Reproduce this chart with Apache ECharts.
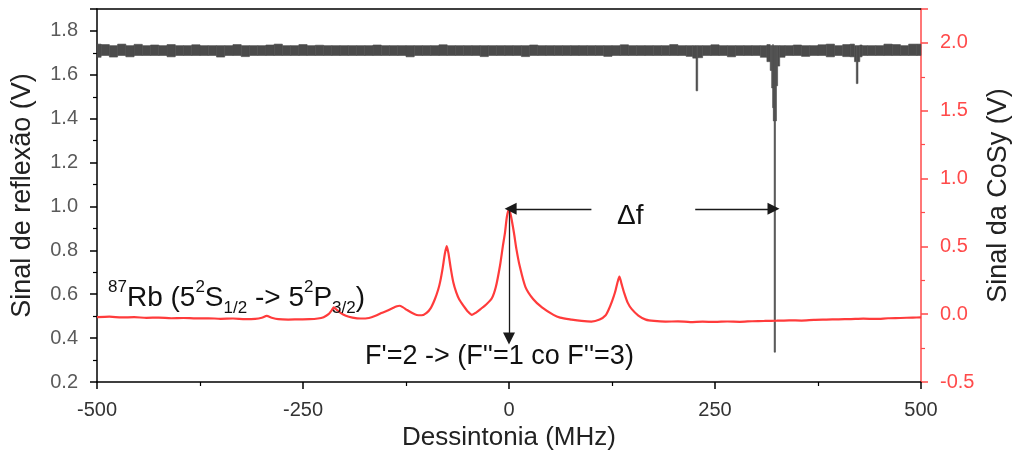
<!DOCTYPE html>
<html>
<head>
<meta charset="utf-8">
<script src="https://cdn.jsdelivr.net/npm/echarts/dist/echarts.min.js"></script>
<style>
  html, body { margin: 0; padding: 0; background: #fff; overflow: hidden; }
  #chart { width: 1013px; height: 453px; }
</style>
</head>
<body>
<div id="chart"></div>
<script>
// Detuning axis ticks (MHz)
const detuningTicks = [-500, -250, 0, 250, 500];

// CoSy (saturated absorption) signal, right axis (V)
const cosyFreq = [
  -500, -485, -470, -455, -440, -425, -410, -395, -380, -365, -350, -335, -320, -308,
  -300, -294, -288, -280, -268, -255, -242, -232, -225, -219, -215, -212.5, -209, -204,
  -198, -190, -180, -170, -162, -155, -148, -141, -136, -133, -129, -124, -118, -112,
  -106, -100, -95, -90, -86, -83.5, -80.5, -78, -75.6, -73.5, -71, -67.6, -64, -60.5,
  -55, -50, -45, -40, -34, -28, -21, -16, -11, -7.5, -4.9, -2.5, 0, 2.5, 6, 9, 13, 20,
  29.5, 40, 54, 62, 76, 88, 100, 110, 117, 121, 125, 128.6, 131.5, 134, 136.5, 139.6,
  144, 149, 157, 166, 176, 190, 205, 220, 235, 250, 265, 280, 295, 310, 325, 340, 355,
  370, 385, 400, 415, 430, 445, 460, 475, 490, 500
];
const cosySignal = [
  -0.022, -0.018, -0.024, -0.022, -0.027, -0.025, -0.030, -0.028, -0.031, -0.030, -0.034, -0.032, -0.036, -0.034,
  -0.026, -0.013, -0.026, -0.037, -0.040, -0.038, -0.037, -0.032, -0.022, 0.000, 0.030, 0.050, 0.032, 0.008,
  -0.012, -0.025, -0.032, -0.028, -0.012, 0.008, 0.025, 0.045, 0.058, 0.062, 0.052, 0.032, 0.010, -0.006,
  -0.008, 0.010, 0.045, 0.110, 0.180, 0.240, 0.340, 0.440, 0.502, 0.450, 0.350, 0.235, 0.160, 0.110,
  0.060, 0.020, -0.005, 0.012, 0.040, 0.070, 0.115, 0.200, 0.355, 0.500, 0.600, 0.720, 0.777, 0.720, 0.600, 0.480, 0.355, 0.200,
  0.110, 0.050, -0.005, -0.025, -0.040, -0.050, -0.055, -0.040, -0.010, 0.035, 0.095, 0.160, 0.230, 0.277, 0.225, 0.160,
  0.085, 0.037, -0.010, -0.040, -0.050, -0.055, -0.053, -0.058, -0.055, -0.057, -0.054, -0.056, -0.052, -0.050, -0.048, -0.045, -0.047,
  -0.042, -0.040, -0.038, -0.036, -0.033, -0.035, -0.030, -0.028, -0.025, -0.024
];

// Reflection signal, left axis (V): noise envelope (upper / lower) of the trace
const reflFreq = [
  -500, -490, -480, -470, -460, -450, -440, -430, -420, -410, -400, -390, -380, -370, -360, -350,
  -340, -330, -320, -310, -300, -290, -280, -270, -260, -250, -240, -230, -220, -210, -200, -190,
  -180, -170, -160, -150, -140, -130, -120, -110, -100, -90, -80, -70, -60, -50, -40, -30, -20, -10,
  0, 10, 20, 30, 40, 50, 60, 70, 80, 90, 100, 110, 120, 130, 140, 150, 160, 170, 180, 190, 200, 210,
  220, 226, 228, 230, 240, 250, 260, 270, 280, 290, 300, 310, 316, 318, 319.5, 320.5, 321, 322.6,
  324.2, 325, 327, 330, 340, 350, 360, 370, 380, 390, 400, 410, 418, 420.5, 422.5, 424.5, 427, 430,
  440, 450, 460, 470, 480, 490, 500
];
const reflUpper = [
  1.740, 1.738, 1.733, 1.740, 1.733, 1.739, 1.733, 1.736, 1.733, 1.738, 1.733, 1.733, 1.737, 1.733, 1.733, 1.733,
  1.733, 1.738, 1.733, 1.733, 1.733, 1.736, 1.740, 1.733, 1.733, 1.738, 1.733, 1.735, 1.733, 1.733, 1.733, 1.733,
  1.733, 1.733, 1.736, 1.733, 1.733, 1.733, 1.733, 1.733, 1.733, 1.733, 1.737, 1.733, 1.733, 1.733, 1.733, 1.733, 1.733, 1.733,
  1.733, 1.733, 1.733, 1.736, 1.733, 1.733, 1.733, 1.733, 1.733, 1.733, 1.733, 1.733, 1.733, 1.733, 1.737, 1.733, 1.733, 1.733, 1.733, 1.733, 1.738, 1.733,
  1.733, 1.733, 1.733, 1.733, 1.733, 1.737, 1.733, 1.733, 1.733, 1.733, 1.733, 1.733, 1.738, 1.733, 1.733, 1.738, 1.733, 1.733,
  1.733, 1.733, 1.733, 1.733, 1.733, 1.736, 1.733, 1.733, 1.737, 1.740, 1.733, 1.738, 1.740, 1.733, 1.733, 1.733, 1.736, 1.733,
  1.733, 1.733, 1.740, 1.738, 1.733, 1.740, 1.740
];
const reflLower = [
  1.680, 1.688, 1.681, 1.688, 1.682, 1.688, 1.688, 1.688, 1.688, 1.682, 1.688, 1.688, 1.688, 1.688, 1.688, 1.681,
  1.688, 1.688, 1.683, 1.688, 1.688, 1.688, 1.688, 1.688, 1.688, 1.688, 1.688, 1.688, 1.688, 1.688, 1.688, 1.688,
  1.688, 1.688, 1.688, 1.688, 1.688, 1.688, 1.682, 1.688, 1.688, 1.688, 1.688, 1.688, 1.688, 1.688, 1.688, 1.683, 1.688, 1.688,
  1.688, 1.688, 1.683, 1.688, 1.688, 1.688, 1.688, 1.688, 1.688, 1.688, 1.688, 1.688, 1.684, 1.688, 1.688, 1.688, 1.688, 1.688, 1.688, 1.688, 1.688, 1.688,
  1.684, 1.676, 1.527, 1.678, 1.688, 1.688, 1.688, 1.682, 1.688, 1.688, 1.688, 1.680, 1.660, 1.620, 1.540, 1.450, 1.390, 0.336,
  1.390, 1.550, 1.640, 1.680, 1.688, 1.688, 1.684, 1.688, 1.688, 1.682, 1.688, 1.683, 1.682, 1.660, 1.560, 1.660, 1.682, 1.688,
  1.688, 1.688, 1.688, 1.688, 1.688, 1.688, 1.688
];

// Arrow anchors (MHz / V on the CoSy axis)
const peakFreq = 0;          // F'=2 -> (F''=1 co F''=3) crossover
const peakValue = 0.777;
const deltaArrowLeft = [100, 2];
const deltaArrowRight = [226, 321];
const markerBottom = -0.18;

const cosyData = cosyFreq.map((f, i) => [f, cosySignal[i]]);

// each envelope sample covers the span halfway to its neighbours
const reflData = reflFreq.map((f, i) => {
  const fl = i === 0 ? f : (reflFreq[i - 1] + f) / 2;
  const fr = i === reflFreq.length - 1 ? f : (f + reflFreq[i + 1]) / 2;
  return [f, reflLower[i], reflUpper[i], fl, fr];
});

const FONT = '"Liberation Sans", Arial, sans-serif';
const GREY = '#4b4b4b';
const RED = '#ff3b3b';
const AXIS_RED = '#ff4a4a';

const chart = echarts.init(document.getElementById('chart'), null, { renderer: 'canvas' });

const arrowLine = { color: '#1a1a1a', width: 1.3, type: 'solid' };

chart.setOption({
  animation: false,
  backgroundColor: '#ffffff',
  textStyle: { fontFamily: FONT },
  grid: { left: 97, right: 92, top: 9, bottom: 71, containLabel: false, outerBoundsMode: 'none' },
  xAxis: [{
    type: 'value',
    min: detuningTicks[0],
    max: detuningTicks[detuningTicks.length - 1],
    interval: detuningTicks[1] - detuningTicks[0],
    name: 'Dessintonia (MHz)',
    nameLocation: 'middle',
    nameGap: 40,
    nameTextStyle: { fontSize: 26, color: '#222', fontFamily: FONT },
    axisLine: { show: true, onZero: false, lineStyle: { color: '#000', width: 1.5 } },
    axisTick: { show: true, inside: false, length: 7, lineStyle: { color: '#000', width: 1.5 } },
    minorTick: { show: true, splitNumber: 2, length: 4, lineStyle: { color: '#000', width: 1.2 } },
    axisLabel: { fontSize: 20, color: '#333', margin: 18, fontFamily: FONT },
    splitLine: { show: false }
  }, {
    type: 'value',
    position: 'top',
    min: detuningTicks[0],
    max: detuningTicks[detuningTicks.length - 1],
    axisLine: { show: true, onZero: false, lineStyle: { color: '#000', width: 1.5 } },
    axisTick: { show: false },
    axisLabel: { show: false },
    splitLine: { show: false }
  }],
  yAxis: [{
    type: 'value',
    position: 'left',
    min: 0.2,
    max: 1.9,
    interval: 0.2,
    name: 'Sinal de reflexão (V)',
    nameLocation: 'middle',
    nameGap: 61,
    nameRotate: 90,
    nameTextStyle: { fontSize: 27, color: '#222', fontFamily: FONT },
    axisLine: { show: true, onZero: false, lineStyle: { color: '#000', width: 1.5 } },
    axisTick: { show: true, inside: false, length: 7, lineStyle: { color: '#000', width: 1.5 } },
    minorTick: { show: true, splitNumber: 2, length: 4, lineStyle: { color: '#000', width: 1.2 } },
    axisLabel: {
      fontSize: 20, color: '#5a5a5a', margin: 19, fontFamily: FONT, showMaxLabel: false,
      formatter: v => v.toFixed(1)
    },
    splitLine: { show: false }
  }, {
    type: 'value',
    position: 'right',
    min: -0.5,
    max: 2.25,
    interval: 0.5,
    name: 'Sinal da CoSy (V)',
    nameLocation: 'middle',
    nameGap: 62,
    nameRotate: 90,
    nameTextStyle: { fontSize: 27, color: '#222', fontFamily: FONT },
    axisLine: { show: true, onZero: false, lineStyle: { color: AXIS_RED, width: 1.5 } },
    axisTick: { show: true, inside: false, length: 7, lineStyle: { color: AXIS_RED, width: 1.5 } },
    minorTick: { show: true, splitNumber: 2, length: 4, lineStyle: { color: AXIS_RED, width: 1.2 } },
    axisLabel: {
      fontSize: 20, color: AXIS_RED, margin: 19, fontFamily: FONT, showMaxLabel: false,
      formatter: v => v.toFixed(1)
    },
    splitLine: { show: false }
  }],
  series: [{
    name: 'Sinal de reflexão',
    type: 'custom',
    xAxisIndex: 0,
    yAxisIndex: 0,
    data: reflData,
    encode: { x: [0, 3, 4], y: [1, 2] },
    silent: true,
    z: 2,
    renderItem: (params, api) => {
      const topLeft = api.coord([api.value(3), api.value(2)]);
      const bottomRight = api.coord([api.value(4), api.value(1)]);
      return {
        type: 'rect',
        shape: {
          x: topLeft[0],
          y: topLeft[1],
          width: bottomRight[0] - topLeft[0],
          height: bottomRight[1] - topLeft[1]
        },
        style: { fill: GREY, stroke: GREY, lineWidth: 0.6 }
      };
    }
  }, {
    name: 'Sinal da CoSy',
    type: 'line',
    xAxisIndex: 0,
    yAxisIndex: 1,
    data: cosyData,
    showSymbol: false,
    smooth: 0.25,
    silent: true,
    lineStyle: { width: 2.2, color: RED },
    itemStyle: { color: RED },
    z: 3,
    markLine: {
      silent: true,
      symbol: ['none', 'triangle'],
      symbolSize: 12,
      label: { show: false },
      lineStyle: arrowLine,
      data: [
        [{ coord: [deltaArrowLeft[0], peakValue] }, { coord: [deltaArrowLeft[1], peakValue] }],
        [{ coord: [deltaArrowRight[0], peakValue] }, { coord: [deltaArrowRight[1], peakValue] }],
        [{ coord: [peakFreq, peakValue] }, { coord: [peakFreq, markerBottom] }]
      ]
    }
  }],
  graphic: [{
    type: 'text',
    left: 108,
    top: 279,
    style: {
      text: '{sup|87}{m|Rb (5}{sup|2}{m|S}{sub|1/2}{m| -> 5}{sup|2}{m|P}{sub|3/2}{m|)}',
      fill: '#111',
      rich: {
        m: { fontSize: 28, fontFamily: FONT, lineHeight: 38, verticalAlign: 'middle', fill: '#111' },
        sup: { fontSize: 17, fontFamily: FONT, lineHeight: 17, verticalAlign: 'top', fill: '#111' },
        sub: { fontSize: 17, fontFamily: FONT, lineHeight: 17, verticalAlign: 'bottom', fill: '#111' }
      }
    },
    z: 10
  }, {
    type: 'text',
    left: 365,
    top: 343,
    style: {
      text: "F'=2 -> (F''=1 co F''=3)",
      fontSize: 27, fontFamily: FONT, fill: '#111'
    },
    z: 10
  }, {
    type: 'text',
    left: 617,
    top: 202,
    style: { text: 'Δf', fontSize: 28, fontFamily: FONT, fill: '#111' },
    z: 10
  }]
});
</script>
</body>
</html>
